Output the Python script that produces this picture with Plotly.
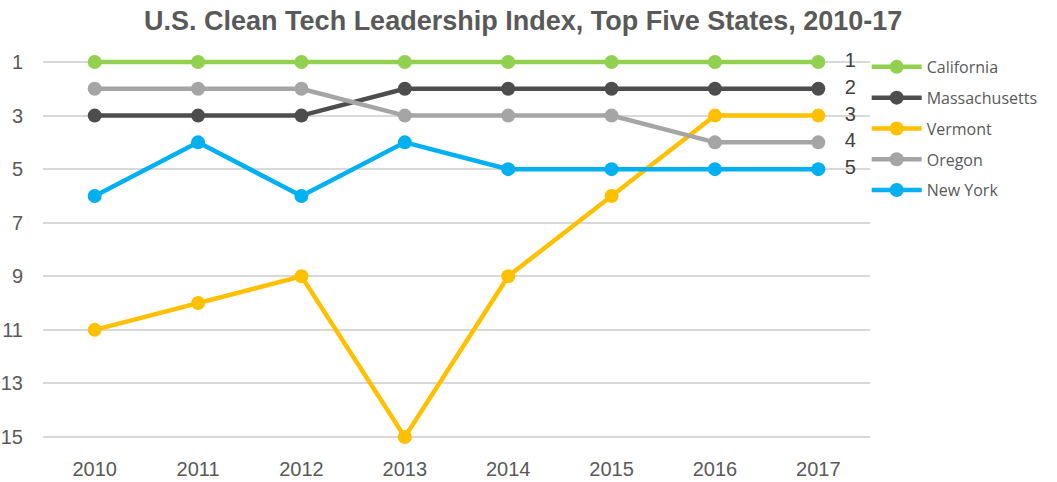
import plotly.graph_objects as go

years = ["2010", "2011", "2012", "2013", "2014", "2015", "2016", "2017"]
states = ["California", "Massachusetts", "Vermont", "Oregon", "New York"]
california = [1, 1, 1, 1, 1, 1, 1, 1]
massachusetts = [3, 3, 3, 2, 2, 2, 2, 2]
vermont = [11, 10, 9, 15, 9, 6, 3, 3]
oregon = [2, 2, 2, 3, 3, 3, 4, 4]
new_york = [6, 4, 6, 4, 5, 5, 5, 5]
series = [california, massachusetts, vermont, oregon, new_york]
colors = ["#92d050", "#4d4d4d", "#ffc000", "#a5a5a5", "#00b0f0"]
y_ticks = [1, 3, 5, 7, 9, 11, 13, 15]

fig = go.Figure()
for name, vals, col in zip(states, series, colors):
    labels = [""] * (len(vals) - 1) + ["   " + str(vals[-1])]
    fig.add_trace(go.Scatter(
        x=years, y=vals, name=name, mode="lines+markers+text",
        text=labels, textposition="middle right",
        textfont=dict(family="Liberation Sans, Arial", size=20, color="#404040"),
        line=dict(color=col, width=4.5),
        marker=dict(color=col, size=14),
        cliponaxis=False, legendgroup=name,
    ))

tick_font = dict(family="Liberation Sans, Arial, sans-serif", size=20, color="#595959")

fig.update_layout(
    width=1057, height=482,
    margin=dict(l=43, r=187, t=58, b=41),
    paper_bgcolor="white", plot_bgcolor="white",
    title=dict(text="<b>U.S. Clean Tech Leadership Index, Top Five States, 2010-17</b>",
               x=0.495, xanchor="center", y=0.958, yanchor="middle",
               font=dict(family="Liberation Sans, Arial, sans-serif", size=27, color="#595959")),
    showlegend=True,
    legend=dict(x=0.996, xanchor="left", y=1.021, yanchor="top",
                traceorder="grouped", tracegroupgap=7,
                font=dict(family="Open Sans, sans-serif", size=16, color="#595959"),
                bgcolor="rgba(0,0,0,0)", itemwidth=50),
    xaxis=dict(type="category", range=[-0.5, 7.5], showgrid=False,
               showline=False, zeroline=False, ticks="", automargin=False,
               tickfont=tick_font, ticklabelstandoff=14),
    yaxis=dict(range=[15.15, 0.85], tickvals=y_ticks, showgrid=True, gridcolor="#d9d9d9",
               gridwidth=1.5, zeroline=False, showline=False, ticks="", automargin=False,
               tickfont=tick_font, ticklabelstandoff=19),
)

fig.write_html("out.html")
